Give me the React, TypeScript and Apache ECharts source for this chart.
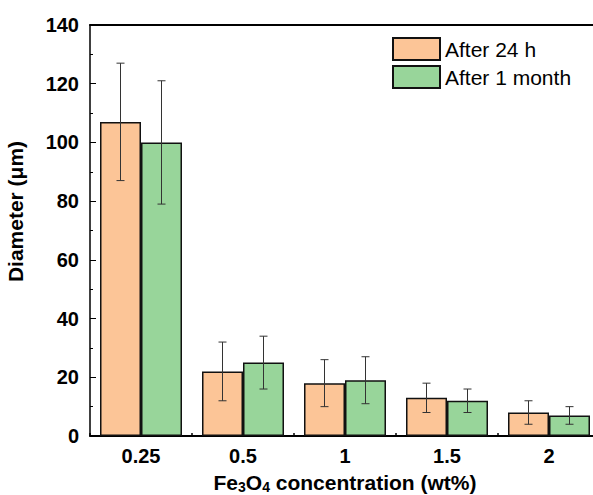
import React, { useEffect, useRef } from "react";
import * as echarts from "echarts";

const categories = ["0.25", "0.5", "1", "1.5", "2"];
const seriesNames = ["After 24 h", "After 1 month"];
const after24h = [107, 22, 18, 13, 8];
const after24hLow = [87, 12, 10, 8, 4];
const after24hHigh = [127, 32, 26, 18, 12];
const after1m = [100, 25, 19, 12, 7];
const after1mLow = [79, 16, 11, 8, 4];
const after1mHigh = [121, 34, 27, 16, 10];
const yTicks = { min: 0, max: 140, interval: 20 };

const FONT = "'Liberation Sans', Arial, sans-serif";
const ORANGE = "#FCC597";
const GREEN = "#98D59A";
const BAR_W = 41;

function errSeries(low: number[], high: number[], offset: number) {
  return {
    type: "custom",
    silent: true,
    z: 5,
    data: low.map((l, i) => [i, l, high[i]]),
    encode: { x: 0, y: [1, 2] },
    renderItem: (params: any, api: any) => {
      const i = api.value(0);
      const pLow = api.coord([i, api.value(1)]);
      const pHigh = api.coord([i, api.value(2)]);
      const x = pLow[0] + offset;
      const cap = 4;
      const style = { stroke: "#333", lineWidth: 1, fill: "none" };
      return {
        type: "group",
        children: [
          { type: "line", shape: { x1: x, y1: pLow[1], x2: x, y2: pHigh[1] }, style },
          { type: "line", shape: { x1: x - cap, y1: pLow[1], x2: x + cap, y2: pLow[1] }, style },
          { type: "line", shape: { x1: x - cap, y1: pHigh[1], x2: x + cap, y2: pHigh[1] }, style },
        ],
      };
    },
  };
}

export default function App() {
  const ref = useRef<HTMLDivElement>(null);
  useEffect(() => {
    const chart = echarts.init(ref.current!, null, { renderer: "svg" });
    chart.setOption({
      animation: false,
      backgroundColor: "#fff",
      textStyle: { fontFamily: FONT },
      grid: { left: 90, top: 25, width: 510, bottom: 59, outerBoundsMode: "none", containLabel: false },
      legend: {
        orient: "vertical",
        left: 392,
        top: 37,
        padding: 0,
        itemWidth: 47,
        itemHeight: 22,
        itemGap: 4,
        icon: "rect",
        data: seriesNames,
        textStyle: { fontFamily: FONT, fontSize: 21, color: "#000" },
      },
      xAxis: [
        {
          type: "category",
          data: categories,
          boundaryGap: true,
          axisLine: { lineStyle: { color: "#000", width: 2 } },
          axisTick: { show: true, inside: true, length: 3, interval: 0, lineStyle: { color: "#000", width: 1.5 } },
          axisLabel: { fontFamily: FONT, fontSize: 20, fontWeight: "bold", color: "#000", margin: 10 },
          name: "{a|Fe}{s|3}{a|O}{s|4}{a| concentration (wt%)}",
          nameLocation: "middle",
          nameGap: 35,
          nameTextStyle: {
            rich: {
              a: { fontFamily: FONT, fontSize: 21, fontWeight: "bold", color: "#000", lineHeight: 22 },
              s: { fontFamily: FONT, fontSize: 14, fontWeight: "bold", color: "#000", lineHeight: 14, padding: [9, 0, 0, 0] },
            },
          },
        },
        {
          type: "category",
          data: categories,
          position: "top",
          axisLine: { lineStyle: { color: "#000", width: 2 } },
          axisTick: { show: false },
          axisLabel: { show: false },
        },
      ],
      yAxis: {
        type: "value",
        min: yTicks.min,
        max: yTicks.max,
        interval: yTicks.interval,
        axisLine: { show: true, lineStyle: { color: "#000", width: 1.5 } },
        axisTick: { show: true, inside: true, length: 6, lineStyle: { color: "#000", width: 1 } },
        minorTick: { show: true, splitNumber: 2, length: 3, lineStyle: { color: "#000", width: 1 } },
        splitLine: { show: false },
        axisLabel: { fontFamily: FONT, fontSize: 20, fontWeight: "bold", color: "#000", margin: 11 },
        name: "Diameter (μm)",
        nameLocation: "middle",
        nameGap: 64,
        nameTextStyle: { fontFamily: FONT, fontSize: 21, fontWeight: "bold", color: "#000", padding: [0, 0, 0, 38] },
      },
      series: [
        {
          name: seriesNames[0],
          type: "bar",
          data: after24h,
          barWidth: BAR_W,
          barGap: "0%",
          itemStyle: { color: ORANGE, borderColor: "#111", borderWidth: 1.5 },
        },
        {
          name: seriesNames[1],
          type: "bar",
          data: after1m,
          barWidth: BAR_W,
          barGap: "0%",
          itemStyle: { color: GREEN, borderColor: "#111", borderWidth: 1.5 },
        },
        errSeries(after24hLow, after24hHigh, -BAR_W / 2),
        errSeries(after1mLow, after1mHigh, BAR_W / 2),
      ],
    });
    return () => chart.dispose();
  }, []);
  return (
    <div
      ref={ref}
      style={{ position: "fixed", left: 0, top: 0, width: 593, height: 495 }}
    />
  );
}
